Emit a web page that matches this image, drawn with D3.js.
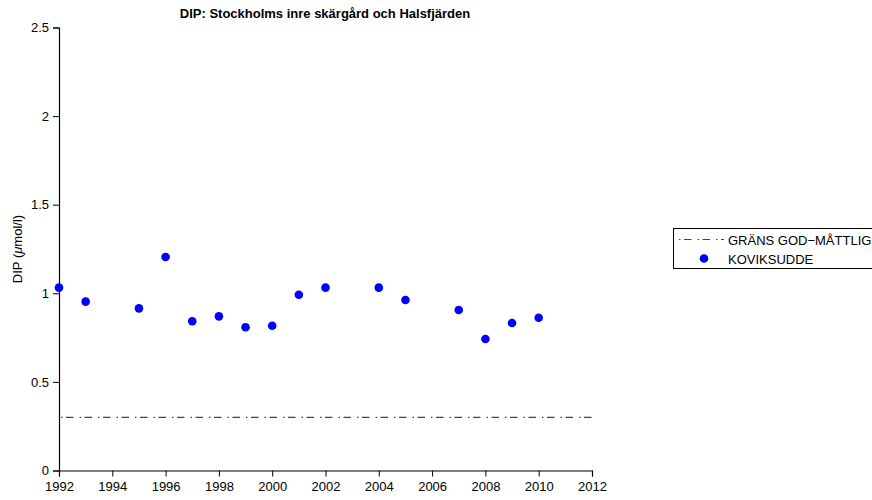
<!DOCTYPE html>
<html>
<head>
<meta charset="utf-8">
<script src="https://cdn.jsdelivr.net/npm/d3@7"></script>
<style>
  body { margin: 0; background: #fff; }
  svg { display: block; font-family: "Liberation Sans", Arial, Helvetica, sans-serif; }
</style>
</head>
<body>
<svg id="chart" width="872" height="500"></svg>
<script>
// Observed DIP at station Koviksudde
const years = [1992, 1993, 1995, 1996, 1997, 1998, 1999, 2000, 2001, 2002, 2004, 2005, 2007, 2008, 2009, 2010];
const dip = [1.032, 0.953, 0.915, 1.205, 0.842, 0.870, 0.808, 0.817, 0.992, 1.032, 1.032, 0.962, 0.906, 0.742, 0.832, 0.862];

// Good/moderate class boundary
const limitValue = 0.3;
const limitSpan = [1992, 2012];

const xTicks = [1992, 1994, 1996, 1998, 2000, 2002, 2004, 2006, 2008, 2010, 2012];
const yTicks = [0, 0.5, 1, 1.5, 2, 2.5];

const title = "DIP: Stockholms inre skärgård och Halsfjärden";
const legendLabels = ["GRÄNS GOD\u2212MÅTTLIG", "KOVIKSUDDE"];

const FS = 13;
const DOTDASH = "1.5,3.5,7.5,6";
const svg = d3.select("#chart");
const x = d3.scaleLinear().domain([1992, 2012]).range([59, 592]);
const y = d3.scaleLinear().domain([0, 2.5]).range([470.5, 27.5]);

// Axes
const xAxis = svg.append("g")
  .attr("transform", `translate(0,${y(0)})`)
  .call(d3.axisBottom(x).tickValues(xTicks).tickFormat(d3.format("d")).tickSizeOuter(0).tickSize(6).tickPadding(5));
const yAxis = svg.append("g")
  .attr("transform", `translate(${x(1992)},0)`)
  .call(d3.axisLeft(y).tickValues(yTicks).tickFormat(d => String(d)).tickSizeOuter(0).tickSize(6).tickPadding(4));
[xAxis, yAxis].forEach(g => {
  g.select(".domain").attr("stroke", "#000").attr("stroke-width", 1.2);
  g.selectAll(".tick line").attr("stroke", "#000").attr("stroke-width", 1);
  g.selectAll(".tick text").attr("fill", "#000").attr("font-size", FS)
    .attr("font-family", "Liberation Sans, Arial, sans-serif");
});

// Class boundary line
svg.append("line")
  .attr("x1", x(limitSpan[0])).attr("x2", x(limitSpan[1]))
  .attr("y1", y(limitValue)).attr("y2", y(limitValue))
  .attr("stroke", "#444").attr("stroke-width", 1.1)
  .attr("stroke-dasharray", DOTDASH).attr("stroke-dashoffset", -2);

// Observations
svg.append("g").selectAll("circle")
  .data(years.map((yr, i) => ({ yr, v: dip[i] })))
  .join("circle")
  .attr("cx", d => x(d.yr)).attr("cy", d => y(d.v))
  .attr("r", 4.3).attr("fill", "#0000ff");

// Title
svg.append("text")
  .attr("x", 325).attr("y", 18)
  .attr("text-anchor", "middle").attr("font-size", FS).attr("font-weight", "bold")
  .text(title);

// Y axis title
const yl = svg.append("text")
  .attr("transform", `translate(22,${y(1.25)}) rotate(-90)`)
  .attr("text-anchor", "middle").attr("font-size", FS);
yl.append("tspan").text("DIP (");
yl.append("tspan").attr("font-style", "italic").text("\u03bc");
yl.append("tspan").text("mol/l)");

// Legend
const lg = svg.append("g");
lg.append("rect")
  .attr("x", 673.5).attr("y", 228.5).attr("width", 220).attr("height", 40)
  .attr("fill", "none").attr("stroke", "#000").attr("stroke-width", 1);
lg.append("line")
  .attr("x1", 679).attr("x2", 724).attr("y1", 239.5).attr("y2", 239.5)
  .attr("stroke", "#444").attr("stroke-width", 1.1)
  .attr("stroke-dasharray", DOTDASH);
lg.append("circle").attr("cx", 704).attr("cy", 258.5).attr("r", 4.3).attr("fill", "#0000ff");
lg.selectAll("text.lbl").data(legendLabels).join("text")
  .attr("class", "lbl")
  .attr("x", 728).attr("y", (d, i) => 244.5 + i * 19)
  .attr("font-size", FS).text(d => d);
</script>
</body>
</html>
